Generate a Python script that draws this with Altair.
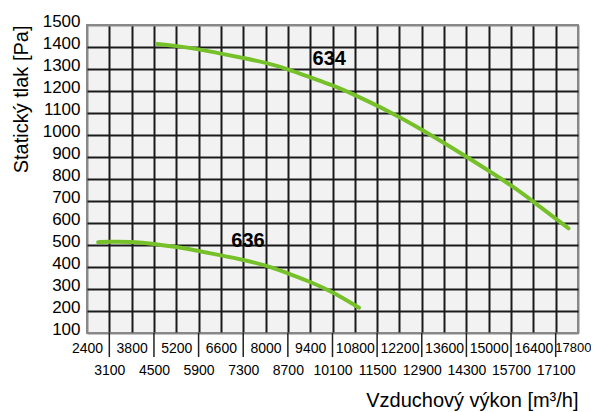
import altair as alt
import pandas as pd

# Curve 634
q634 = [4600, 5200, 5900, 6600, 7300, 8000, 8700, 9400, 10100, 10650,
        11900, 12900, 14300, 15700, 16400, 17500]
p634 = [1414, 1405, 1390, 1370, 1350, 1329, 1300, 1262, 1226, 1192,
        1106, 1025, 902, 773, 697, 576]
# Curve 636
q636 = [2750, 3100, 3800, 4500, 5200, 5900, 6600, 7300, 8000, 8700, 9400,
        10100, 10930]
p636 = [513, 515, 515, 506, 491, 473, 453, 433, 408, 372, 333, 287, 215]

x_ticks = [2400, 3100, 3800, 4500, 5200, 5900, 6600, 7300, 8000, 8700, 9400,
           10100, 10800, 11500, 12200, 12900, 13600, 14300, 15000, 15700,
           16400, 17100, 17800]
x_long_ticks = [3100, 4500, 5900, 7300, 8700, 10100, 11500, 12900, 14300,
                15700, 17100]
y_ticks = [100, 200, 300, 400, 500, 600, 700, 800, 900, 1000, 1100, 1200,
           1300, 1400, 1500]

label_text = ["634", "636"]
label_q = [10000, 7450]
label_p = [1345, 520]

curves = pd.DataFrame({
    "q": q634 + q636,
    "p": p634 + p636,
    "model": ["634"] * len(q634) + ["636"] * len(q636),
})
labels = pd.DataFrame({"q": label_q, "p": label_p, "t": label_text})
ticks = pd.DataFrame({"q": x_long_ticks})

FONT = "Liberation Sans, Arial, sans-serif"
GREEN = "#76c12a"

edge_test = "datum.value == 2400 || datum.value == 17800 || datum.value == 100 || datum.value == 1500"
last_test = "datum.value == 17800"

x_scale = alt.Scale(domain=[2400, 17800], nice=False, zero=False)
y_scale = alt.Scale(domain=[100, 1500], nice=False, zero=False)

x_axis = alt.Axis(
    values=x_ticks, tickCount=100, format="d",
    labelExpr="(datum.value - 2400) % 1400 == 0 ? datum.label : ['', datum.label]",
    labelFont=FONT, labelColor="#000",
    labelFontSize={"condition": {"test": last_test, "value": 13}, "value": 14},
    labelLineHeight=22, labelPadding=8, labelOverlap=False, labelFlush=False,
    labelBound=False,
    labelAlign={"condition": {"test": last_test, "value": "right"}, "value": "center"},
    labelOffset={"condition": {"test": last_test, "value": 13}, "value": 0},
    ticks=False, tickSize=0, domain=False,
    grid=True, gridColor={"condition": {"test": edge_test, "value": "#888"}, "value": "#1a1a1a"},
    gridWidth=2, gridOpacity=1,
    title="Vzduchový výkon [m³/h]", titleFont=FONT, titleFontSize=20,
    titleFontWeight="normal", titleColor="#000", titleAnchor="end",
    titleY=73, titleBaseline="alphabetic",
)
y_axis = alt.Axis(
    values=y_ticks, tickCount=100, format="d",
    labelFont=FONT, labelFontSize=17, labelColor="#000", labelPadding=7,
    labelBaseline="alphabetic", labelOffset=1.5,
    labelOverlap=False, labelFlush=False, labelBound=False,
    ticks=False, tickSize=0, domain=False,
    grid=True, gridColor={"condition": {"test": edge_test, "value": "#888"}, "value": "#1a1a1a"},
    gridWidth=2, gridOpacity=1,
    title="Statický tlak [Pa]", titleFont=FONT, titleFontSize=20,
    titleFontWeight="normal", titleColor="#000", titleAnchor="end",
    titleX=-66, titleBaseline="middle",
)

lines = alt.Chart(curves).mark_line(
    color=GREEN, strokeWidth=4, strokeCap="round", interpolate="basis"
).encode(
    x=alt.X("q:Q", scale=x_scale, axis=x_axis),
    y=alt.Y("p:Q", scale=y_scale, axis=y_axis),
    detail="model:N",
)

text = alt.Chart(labels).mark_text(
    font=FONT, fontSize=20, fontWeight="bold", color="#000"
).encode(
    x=alt.X("q:Q", scale=x_scale),
    y=alt.Y("p:Q", scale=y_scale),
    text="t:N",
)

long_ticks = alt.Chart(ticks).mark_rule(color="#222", strokeWidth=1.5).encode(
    x=alt.X("q:Q", scale=x_scale),
    y=alt.value(308),
    y2=alt.value(332),
)

chart = alt.layer(lines, text, long_ticks).properties(
    width=491, height=308,
    autosize=alt.AutoSizeParams(type="none"),
    padding={"left": 79, "top": 17, "right": 13, "bottom": 79},
    background="#ffffff",
).configure_view(
    fill="#f2f2f2", stroke="#888", strokeWidth=2
)

chart.save("out.html", embed_options={"renderer": "svg", "actions": False})
